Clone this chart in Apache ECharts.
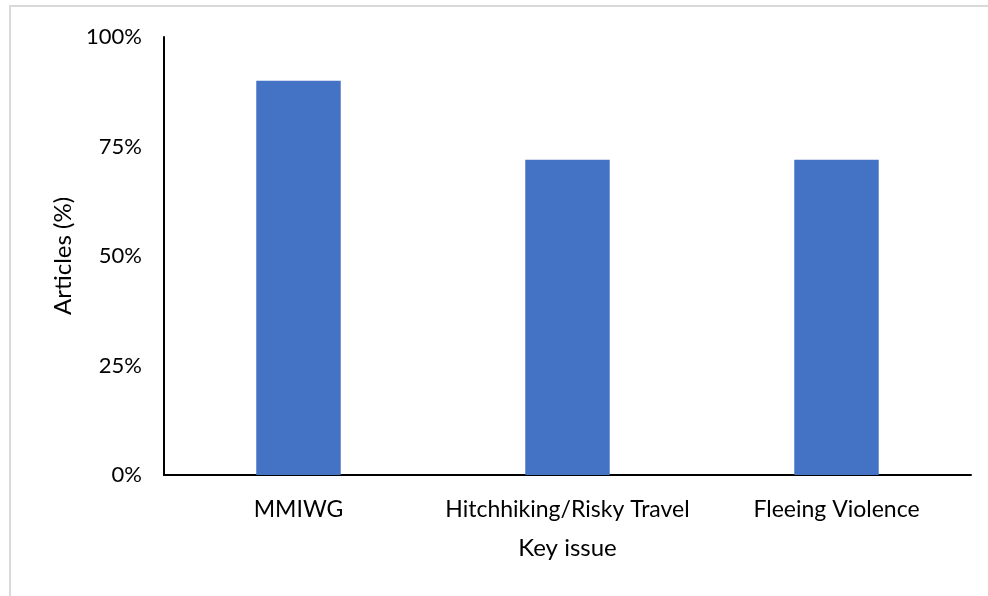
<!DOCTYPE html>
<html>
<head>
    <meta charset="UTF-8"/>
    <script src="https://cdn.jsdelivr.net/npm/echarts@6/dist/echarts.min.js"></script>
    <style>
        html, body { margin: 0; padding: 0; background: #fff; }
        #main { width: 988px; height: 596px; }
    </style>
</head>
<body>
<div id="main"></div>
<script type="text/javascript">
    // 数据
    var categories = ['MMIWG', 'Hitchhiking/Risky Travel', 'Fleeing Violence'];
    var articlePct = [90, 72, 72];
    var yTicks = [0, 25, 50, 75, 100];

    var fontName = 'Lato';
    var myChart = echarts.init(document.getElementById('main'));
    var option = {
        animation: false,
        backgroundColor: '#fff',
        textStyle: {fontFamily: fontName},
        // 外框(只看得到上边和左边)
        graphic: [{
            type: 'rect',
            shape: {x: 10, y: 6, width: 1000, height: 620},
            style: {fill: 'none', stroke: '#d9d9d9', lineWidth: 2},
            silent: true
        }],
        grid: {left: 164, right: 17, top: 37, bottom: 121},
        xAxis: {
            type: 'category',
            data: categories,
            name: 'Key issue',
            nameLocation: 'middle',
            nameGap: 61,
            nameTextStyle: {fontSize: 24, color: '#000', fontFamily: fontName},
            axisLine: {lineStyle: {color: '#000', width: 2}},
            axisTick: {show: false},
            axisLabel: {interval: 0, margin: 23, fontSize: 23, color: '#000', fontFamily: fontName},
            splitLine: {show: false}
        },
        yAxis: {
            type: 'value',
            min: yTicks[0],
            max: yTicks[yTicks.length - 1],
            interval: 25,
            name: 'Articles (%)',
            nameLocation: 'middle',
            nameGap: 86,
            nameTextStyle: {fontSize: 24, color: '#000', fontFamily: fontName},
            axisLine: {show: true, lineStyle: {color: '#000', width: 2}},
            axisTick: {show: false},
            axisLabel: {margin: 22, fontSize: 22, color: '#000', formatter: '{value}%', fontFamily: fontName},
            splitLine: {show: false}
        },
        series: [{
            type: 'bar',
            data: articlePct,
            barWidth: '31.4%',
            itemStyle: {color: '#4472c4'}
        }]
    };
    myChart.setOption(option);
</script>
</body>
</html>
